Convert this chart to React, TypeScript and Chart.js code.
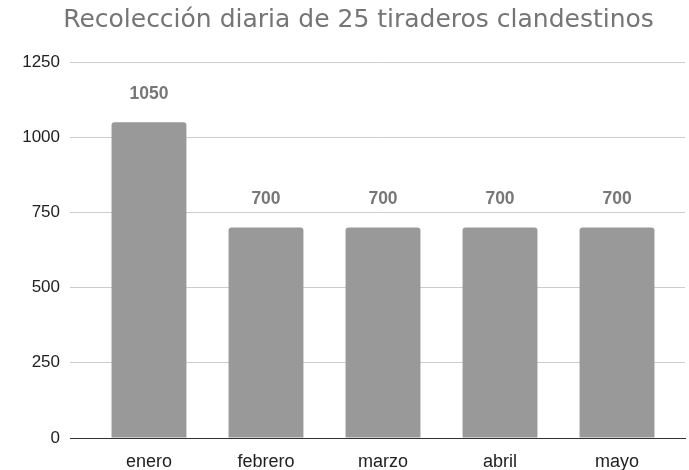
import React, { useEffect, useRef } from "react";
import { Chart, registerables } from "chart.js";

Chart.register(...registerables);

const TITLE = "Recolección diaria de 25 tiraderos clandestinos";
const MONTHS = ["enero", "febrero", "marzo", "abril", "mayo"];
const VALUES = [1050, 700, 700, 700, 700];
const Y_MIN = 0;
const Y_MAX = 1250;
const Y_STEP = 250;

const valueLabels = {
  id: "valueLabels",
  afterDatasetsDraw(chart: any) {
    const ctx = chart.ctx;
    const meta = chart.getDatasetMeta(0);
    ctx.save();
    ctx.font = "bold 17.5px 'Liberation Sans', Arial, sans-serif";
    ctx.fillStyle = "#777777";
    ctx.textAlign = "center";
    ctx.textBaseline = "middle";
    meta.data.forEach((el: any, i: number) => {
      ctx.fillText(String(VALUES[i]), el.x, el.y - 28);
    });
    ctx.restore();
  },
};

const chartTitle = {
  id: "chartTitle",
  afterDraw(chart: any) {
    const ctx = chart.ctx;
    ctx.save();
    ctx.font = "25px 'DejaVu Sans', sans-serif";
    ctx.fillStyle = "#757575";
    ctx.textAlign = "center";
    ctx.textBaseline = "alphabetic";
    ctx.fillText(TITLE, 358.5, 27);
    ctx.restore();
  },
};

export default function App() {
  const ref = useRef<HTMLCanvasElement | null>(null);
  useEffect(() => {
    if (!ref.current) return;
    const chart = new Chart(ref.current, {
      type: "bar",
      data: {
        datasets: [
          {
            data: VALUES.map((v, i) => ({ x: i, y: v })),
            backgroundColor: "#999999",
            borderRadius: { topLeft: 3, topRight: 3, bottomLeft: 0, bottomRight: 0 },
            borderSkipped: "bottom",
            categoryPercentage: 0.8,
            barPercentage: 0.8,
          },
        ],
      },
      options: {
        animation: false,
        responsive: false,
        maintainAspectRatio: false,
        layout: { padding: { left: 0, right: 4, top: 62, bottom: 0 } },
        plugins: {
          legend: { display: false },
          tooltip: { enabled: false },
          title: { display: false },
        },
        scales: {
          x: {
            type: "linear",
            offset: false,
            min: -0.675,
            max: 4.581,
            grid: { display: false, drawTicks: false },
            border: { display: true, color: "#333333", width: 1 },
            afterBuildTicks: (scale: any) => {
              scale.ticks = MONTHS.map((_, i) => ({ value: i }));
            },
            afterFit: (scale: any) => {
              scale.height = 32;
            },
            ticks: {
              autoSkip: false,
              maxRotation: 0,
              padding: 13,
              color: "#222222",
              font: { family: "'Liberation Sans', Arial, sans-serif", size: 18 },
              callback: (v: any) => MONTHS[v] ?? "",
            },
          },
          y: {
            min: Y_MIN,
            max: Y_MAX,
            ticks: {
              stepSize: Y_STEP,
              padding: 10,
              color: "#222222",
              font: { family: "'Liberation Sans', Arial, sans-serif", size: 17 },
              callback: (v: any) => String(v),
            },
            grid: { color: "#cccccc", drawTicks: false },
            border: { display: false },
            afterFit: (scale: any) => {
              scale.width = 70;
            },
          },
        },
      },
      plugins: [valueLabels, chartTitle],
    });
    return () => chart.destroy();
  }, []);
  return (
    <div style={{ position: "fixed", left: 0, top: 0, width: 689, height: 470, background: "#fff" }}>
      <canvas ref={ref} width={689} height={470} style={{ width: 689, height: 470 }} />
    </div>
  );
}
